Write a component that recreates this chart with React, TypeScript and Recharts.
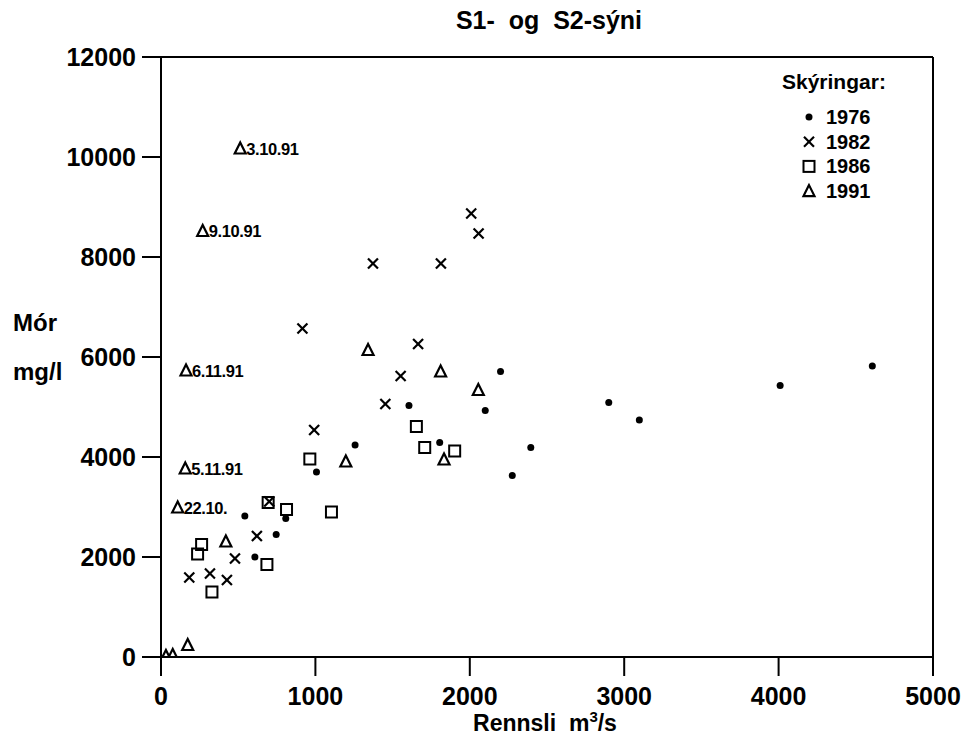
import { ScatterChart, Scatter, XAxis, YAxis, ReferenceLine } from 'recharts';

const FONT = "'Liberation Sans', Arial, sans-serif";

// x = Rennsli (m3/s), y = Mór (mg/l)
const x1976 = [543, 608, 746, 808, 1007, 1257, 1606, 1805, 2100, 2199, 2275, 2395, 2900, 3098, 4010, 4607];
const y1976 = [2820, 2000, 2450, 2770, 3700, 4240, 5030, 4290, 4930, 5710, 3630, 4190, 5090, 4740, 5430, 5820];

const x1982 = [1373, 1813, 916, 1665, 1552, 1453, 2009, 2057, 992, 701, 621, 479, 183, 317, 427];
const y1982 = [7870, 7870, 6570, 6260, 5620, 5060, 8870, 8470, 4540, 3110, 2420, 1970, 1590, 1670, 1540];

const x1986 = [964, 1654, 1708, 1902, 694, 813, 1104, 263, 237, 686, 330];
const y1986 = [3960, 4610, 4190, 4120, 3090, 2950, 2900, 2250, 2060, 1850, 1300];

const x1991 = [1341, 1811, 2055, 1197, 1833, 420, 173, 32, 76];
const y1991 = [6140, 5710, 5340, 3910, 3950, 2310, 240, 20, 40];

// 1991 samples marked with a date
const xDated = [513, 270, 162, 157, 108];
const yDated = [10170, 8520, 5730, 3770, 2990];
const dates = ['3.10.91', '9.10.91', '6.11.91', '5.11.91', '22.10.'];

const xTicks = [0, 1000, 2000, 3000, 4000, 5000];
const yTicks = [0, 2000, 4000, 6000, 8000, 10000, 12000];
const years = ['1976', '1982', '1986', '1991'];

const pts = (xs: number[], ys: number[]) => xs.map((x, i) => ({ x, y: ys[i] }));
const dated = xDated.map((x, i) => ({ x, y: yDated[i], label: dates[i] }));

function Dot({ cx, cy }: any) {
  return <circle cx={cx} cy={cy} r={3.5} fill="#000" />;
}
function Cross({ cx, cy }: any) {
  return (
    <g stroke="#000" strokeWidth={2.2}>
      <line x1={cx - 5} y1={cy - 5} x2={cx + 5} y2={cy + 5} />
      <line x1={cx - 5} y1={cy + 5} x2={cx + 5} y2={cy - 5} />
    </g>
  );
}
function Square({ cx, cy }: any) {
  return <rect x={cx - 5.5} y={cy - 5.5} width={11} height={11} fill="none" stroke="#000" strokeWidth={2} />;
}
function Tri({ cx, cy }: any) {
  return (
    <polygon
      points={`${cx},${cy - 6} ${cx - 5.5},${cy + 5} ${cx + 5.5},${cy + 5}`}
      fill="none"
      stroke="#000"
      strokeWidth={2.2}
    />
  );
}
function DatedTri(props: any) {
  const { cx, cy, payload } = props;
  return (
    <g>
      <Tri cx={cx} cy={cy} />
      <text x={cx + 6} y={cy + 6} fontSize={16.5} fontWeight={700} fontFamily={FONT} fill="#000" letterSpacing={-0.4}>
        {payload.label}
      </text>
    </g>
  );
}

const markers = [Dot, Cross, Square, Tri];

const tickStyle = { fill: '#000', fontSize: 25, fontWeight: 700, fontFamily: FONT };
const lineStyle = { stroke: '#000', strokeWidth: 2 };

export default function App() {
  return (
    <div style={{ position: 'absolute', left: 0, top: 0, width: 967, height: 745, background: '#fff', fontFamily: FONT }}>
      <ScatterChart width={967} height={745} margin={{ top: 57, right: 34, bottom: 0, left: 0 }}>
        <XAxis
          type="number"
          dataKey="x"
          domain={[0, 5000]}
          ticks={xTicks}
          height={88}
          tick={tickStyle}
          tickSize={19}
          tickMargin={11}
          tickLine={lineStyle}
          axisLine={lineStyle}
          allowDataOverflow
        />
        <YAxis
          type="number"
          dataKey="y"
          domain={[0, 12000]}
          ticks={yTicks}
          width={161}
          tick={tickStyle}
          tickSize={19}
          tickMargin={6}
          tickLine={lineStyle}
          axisLine={lineStyle}
          allowDataOverflow
        />
        <ReferenceLine y={12000} stroke="#000" strokeWidth={2} />
        <ReferenceLine x={5000} stroke="#000" strokeWidth={2} />
        <Scatter name="1976" data={pts(x1976, y1976)} shape={(p: any) => <Dot cx={p.cx} cy={p.cy} />} isAnimationActive={false} />
        <Scatter name="1982" data={pts(x1982, y1982)} shape={(p: any) => <Cross cx={p.cx} cy={p.cy} />} isAnimationActive={false} />
        <Scatter name="1986" data={pts(x1986, y1986)} shape={(p: any) => <Square cx={p.cx} cy={p.cy} />} isAnimationActive={false} />
        <Scatter name="1991" data={pts(x1991, y1991)} shape={(p: any) => <Tri cx={p.cx} cy={p.cy} />} isAnimationActive={false} />
        <Scatter name="1991 dated" data={dated} shape={(p: any) => <DatedTri {...p} />} isAnimationActive={false} />
      </ScatterChart>

      <svg width={967} height={745} style={{ position: 'absolute', left: 0, top: 0, pointerEvents: 'none' }}>
        <text x={549} y={29} textAnchor="middle" fontSize={25} fontWeight={700} fontFamily={FONT} style={{ whiteSpace: 'pre' }}>
          {'S1-  og  S2-sýni'}
        </text>
        <text x={13} y={331} fontSize={24} fontWeight={700} fontFamily={FONT}>Mór</text>
        <text x={13} y={380} fontSize={24} fontWeight={700} fontFamily={FONT}>mg/l</text>
        <text x={545} y={731} textAnchor="middle" fontSize={23} fontWeight={700} fontFamily={FONT} style={{ whiteSpace: 'pre' }}>
          {'Rennsli  m'}
          <tspan dy={-9} fontSize={15}>3</tspan>
          <tspan dy={9}>/s</tspan>
        </text>
        <text x={782} y={89} fontSize={21} fontWeight={700} fontFamily={FONT}>Skýringar:</text>
        {years.map((yr, i) => {
          const Marker = markers[i];
          const cy = 117 + i * 24.7;
          return (
            <g key={yr}>
              <Marker cx={809} cy={cy} />
              <text x={826} y={cy + 7} fontSize={20} fontWeight={700} fontFamily={FONT}>{yr}</text>
            </g>
          );
        })}
      </svg>
    </div>
  );
}
